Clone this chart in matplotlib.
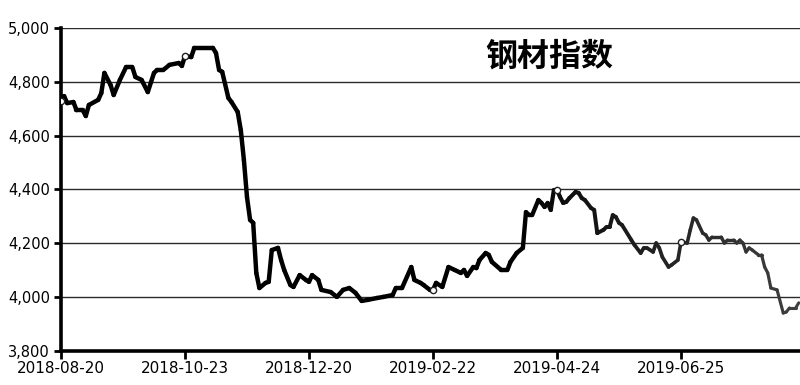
import numpy as np
import matplotlib.pyplot as plt
from matplotlib.collections import LineCollection
from matplotlib.ticker import FuncFormatter

# trading-day index and index value
days = [0, 1, 2, 4, 5, 7, 8, 9, 12, 13, 14, 16, 17, 19, 21, 23, 24, 26, 28, 30,
        31, 33, 35, 38, 39, 40, 42, 43, 49, 50, 51, 52, 54, 55, 57, 58, 59, 60, 61, 62,
        63, 64, 66, 67, 68, 70, 71, 72, 74, 75, 77, 79, 80, 81, 83, 84, 87, 89, 91, 93,
        95, 97, 99, 102, 104, 107, 108, 110, 113, 114, 116, 117, 119, 120, 121, 123, 125, 127, 129, 130,
        131, 133, 134, 135, 137, 138, 139, 142, 144, 145, 147, 149, 150, 151, 152, 154, 155, 156, 157, 158,
        159, 160, 161, 162, 163, 164, 166, 167, 168, 169, 171, 172, 173, 175, 176, 177, 178, 179, 180, 181,
        184, 185, 187, 188, 189, 191, 192, 193, 194, 196, 197, 199, 200, 202, 203, 204, 205, 207, 208, 209,
        210, 213, 214, 215, 217, 218, 219, 220, 221, 222, 223, 225, 226, 227, 228, 229, 231, 233, 234, 235,
        237, 238]
values = [4730, 4747, 4721, 4725, 4695, 4695, 4673, 4714, 4733, 4758, 4833, 4788, 4751, 4807, 4855, 4855, 4818, 4807, 4762, 4833,
          4844, 4844, 4863, 4870, 4859, 4896, 4892, 4926, 4926, 4907, 4844, 4837, 4740, 4725, 4688, 4621, 4510, 4372, 4287, 4276,
          4090, 4034, 4053, 4057, 4175, 4183, 4138, 4101, 4045, 4038, 4082, 4064, 4057, 4082, 4064, 4027, 4019, 4001, 4027, 4034,
          4016, 3986, 3990, 3997, 4001, 4008, 4034, 4034, 4112, 4064, 4053, 4045, 4027, 4027, 4053, 4038, 4112, 4101, 4090, 4101,
          4079, 4112, 4108, 4138, 4164, 4157, 4131, 4101, 4101, 4131, 4164, 4183, 4316, 4305, 4305, 4361, 4350, 4335, 4350, 4324,
          4398, 4398, 4372, 4350, 4354, 4368, 4391, 4387, 4368, 4361, 4331, 4324, 4238, 4250, 4261, 4261, 4305, 4298, 4276, 4268,
          4212, 4194, 4164, 4183, 4183, 4168, 4201, 4183, 4149, 4112, 4120, 4138, 4205, 4201, 4250, 4294, 4287, 4238, 4231, 4212,
          4223, 4223, 4201, 4212, 4212, 4201, 4212, 4201, 4168, 4183, 4175, 4157, 4157, 4112, 4090, 4034, 4027, 3941, 3945, 3960,
          3960, 3979]

tick_days = [0, 40, 80, 120, 160, 200]
tick_labels = ["2018-08-20", "2018-10-23", "2018-12-20", "2019-02-22", "2019-04-24", "2019-06-25"]
marker_days = [0, 40, 120, 160, 200]
title = "钢材指数"

plt.rcParams['font.family'] = ['DejaVu Sans']

fig = plt.figure(figsize=(8, 3.85), dpi=100)
ax = fig.add_axes([0.07625, 0.0883, 0.92375, 0.839])

x = np.array(days, dtype=float)
y = np.array(values, dtype=float)

# grid lines
for g in range(4000, 5001, 200):
    ax.axhline(g, color='#2a2a2a', lw=1.0, zorder=1)

# the scanned line fades from thick black to thinner grey toward the right
pts = np.column_stack([x, y]).reshape(-1, 1, 2)
segs = np.concatenate([pts[:-1], pts[1:]], axis=1)
t = np.linspace(0, 1, len(segs))
t = np.clip((t - 0.55) / 0.45, 0, 1)
widths = 3.2 - 1.0 * t
shade = 0.0 + 0.25 * t
colors = [(s, s, s, 1) for s in shade]
lc = LineCollection(segs, linewidths=widths, colors=colors, capstyle='round',
                    joinstyle='round', zorder=3)
ax.add_collection(lc)

# small hollow circles left on the line at some tick days
my = np.interp(marker_days, x, y)
ax.plot(marker_days, my, 'o', ms=4.5, mfc='white', mec='#222', mew=1.0, zorder=4)

fig.text(0.686, 0.852, title, fontsize=23, fontweight='bold',
         family=['Noto Sans CJK SC', 'DejaVu Sans'], ha='center', va='center')

ax.set_xlim(0, 238.4)
ax.set_ylim(3800, 5000)
ax.set_yticks(range(3800, 5001, 200))
ax.yaxis.set_major_formatter(FuncFormatter(lambda v, p: f"{int(v):,}"))
ax.set_xticks(tick_days)
ax.set_xticklabels(tick_labels)

for side in ['top', 'right']:
    ax.spines[side].set_visible(False)
for side in ['left', 'bottom']:
    ax.spines[side].set_linewidth(2.6)
    ax.spines[side].set_color('black')

ax.tick_params(axis='y', length=5, width=2, labelsize=10.5, pad=3)
ax.tick_params(axis='x', length=6, width=2, labelsize=11, pad=1)

fig.savefig("out.png", dpi=100)
